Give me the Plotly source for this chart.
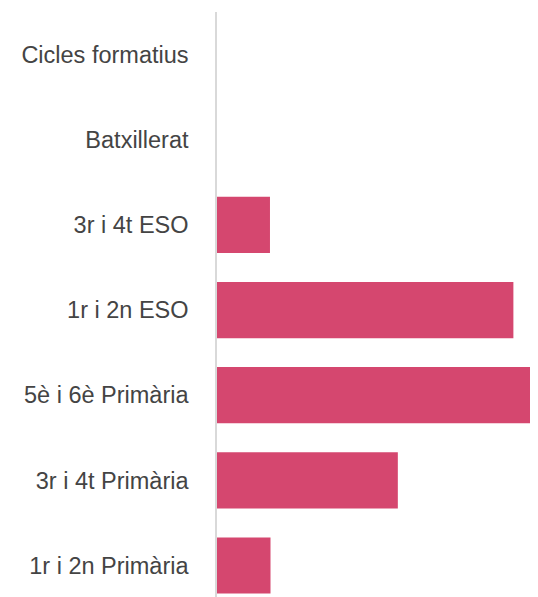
import plotly.graph_objects as go

# categories, bottom to top
levels = [
    "1r i 2n Primària",
    "3r i 4t Primària",
    "5è i 6è Primària",
    "1r i 2n ESO",
    "3r i 4t ESO",
    "Batxillerat",
    "Cicles formatius",
]
values = [5.0, 16.9, 30.0, 27.7, 4.95, 0, 0]

BAR_COLOR = "#d5476f"

fig = go.Figure(
    go.Bar(
        x=values,
        y=levels,
        orientation="h",
        marker=dict(color=BAR_COLOR, line=dict(width=0)),
        width=0.66,
        hoverinfo="x+y",
    )
)

# the page body adds 8px, so the figure is a bit smaller than the window
fig.update_layout(
    width=530,
    height=589,
    margin=dict(l=209, r=0, t=4, b=0),
    paper_bgcolor="white",
    plot_bgcolor="white",
    font=dict(family="Arial", size=23.5, color="#444444"),
    showlegend=False,
)
fig.update_xaxes(
    range=[0, 30],
    showgrid=False,
    zeroline=False,
    showticklabels=False,
    showline=False,
    fixedrange=True,
)
fig.update_yaxes(
    type="category",
    categoryorder="array",
    categoryarray=levels,
    range=[-0.37, 6.5],
    showgrid=False,
    zeroline=False,
    showline=True,
    linecolor="#d9d9d9",
    linewidth=1.5,
    ticks="",
    ticklabelstandoff=22,
    fixedrange=True,
)

fig.write_html("out.html")
